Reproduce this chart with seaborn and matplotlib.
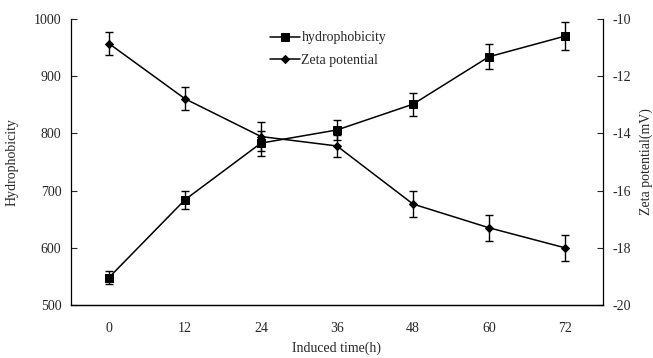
import numpy as np
import pandas as pd
import matplotlib
matplotlib.use("Agg")
import matplotlib.pyplot as plt
import seaborn as sns
from matplotlib.ticker import FixedLocator

# data
time_labels = ["0", "12", "24", "36", "48", "60", "72"]
hydrophobicity = [548, 684, 783, 806, 851, 934, 970]
hydro_err = [12, 16, 22, 18, 20, 22, 24]
zeta = [-10.86, -12.79, -14.11, -14.44, -16.47, -17.30, -18.0]
zeta_err = [0.4, 0.4, 0.5, 0.4, 0.45, 0.45, 0.45]

sns.set_style("white")
plt.rcParams["font.family"] = ["Liberation Serif", "DejaVu Serif"]
plt.rcParams["axes.unicode_minus"] = False

df = pd.DataFrame({
    "pos": np.arange(len(time_labels)),
    "hydro": hydrophobicity,
    "zeta": zeta,
})

fs = 10

fig = plt.figure(figsize=(6.53, 3.58), dpi=100)
ax = fig.add_axes([0.1087, 0.148, 0.8147, 0.799])
ax2 = ax.twinx()

sns.lineplot(data=df, x="pos", y="hydro", ax=ax, color="black", lw=1.1,
             marker="s", markersize=6.2, markeredgecolor="black", label="hydrophobicity",
             legend=False)
ax.errorbar(df["pos"], df["hydro"], yerr=hydro_err, fmt="none", ecolor="black",
            elinewidth=1.0, capsize=3, capthick=1.0)

sns.lineplot(data=df, x="pos", y="zeta", ax=ax2, color="black", lw=1.1,
             marker="D", markersize=4.5, markeredgecolor="black", label="Zeta potential",
             legend=False)
ax2.errorbar(df["pos"], df["zeta"], yerr=zeta_err, fmt="none", ecolor="black",
             elinewidth=1.0, capsize=3, capthick=1.0)

ax.set_xlim(-0.5, 6.5)
ax.set_ylim(500, 1000)
ax2.set_ylim(-20, -10)
ax.set_yticks(np.arange(500, 1001, 100))
ax2.set_yticks(np.arange(-20, -9, 2))
ax.set_xticks(df["pos"])
ax.set_xticklabels(time_labels)
ax.xaxis.set_minor_locator(FixedLocator(np.arange(0.5, 6, 1)))

ax.tick_params(axis="x", which="major", length=0, labelsize=fs, pad=12)
ax.tick_params(axis="x", which="minor", direction="in", length=4, width=0.8)
ax.tick_params(axis="y", direction="in", length=4, width=0.8, labelsize=fs, pad=7)
ax2.tick_params(axis="y", direction="in", length=4, width=0.8, labelsize=fs, pad=7)

for a in (ax, ax2):
    a.spines["top"].set_visible(False)
    for s in ("left", "right", "bottom"):
        a.spines[s].set_linewidth(0.9)
        a.spines[s].set_color("black")
ax2.spines["left"].set_visible(False)
ax.spines["right"].set_visible(False)

ax.set_xlabel("Induced time(h)", fontsize=fs)
ax.set_ylabel("Hydrophobicity", fontsize=fs)
ax2.set_ylabel("Zeta potential(mV)", fontsize=fs)
ax.xaxis.set_label_coords(0.5, -0.128)
ax.yaxis.set_label_coords(-0.098, 0.5)
ax2.yaxis.set_label_coords(1.068, 0.5)

h1, l1 = ax.get_legend_handles_labels()
h2, l2 = ax2.get_legend_handles_labels()
ax2.legend(h1 + h2, l1 + l2, loc="upper center", bbox_to_anchor=(0.483, 1.0),
           frameon=False, fontsize=fs, handlelength=2.2, handletextpad=0.1,
           labelspacing=0.7)

fig.savefig("out.png", dpi=100)
